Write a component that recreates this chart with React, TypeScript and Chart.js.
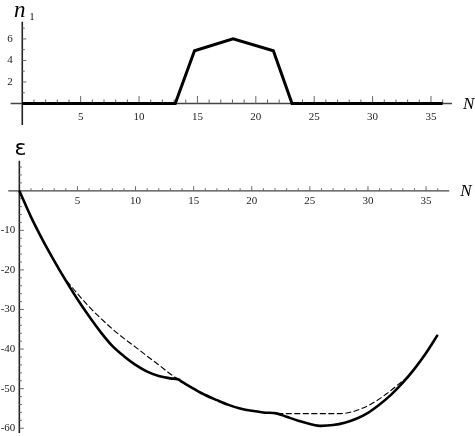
import React, { useEffect, useRef } from "react";
import { Chart, registerables } from "chart.js";
Chart.register(...registerables);

// ---- Top panel: n1 vs N ----
const topN = [0, 13.1, 14.75, 18.05, 21.5, 23.1, 36];
const topN1 = [0, 0, 4.9, 6.0, 4.9, 0, 0];

// ---- Bottom panel: epsilon vs N ----
const solidN = [0, 1, 2, 3, 4, 5, 6, 7, 8, 9, 10, 11, 12, 13, 13.7, 14, 15, 16, 17, 18, 19, 20, 21, 22.2, 23, 24, 25, 26, 27, 28, 29, 30, 31, 32, 33, 34, 35, 36];
const solidE = [0, -6.6, -12.4, -17.7, -22.7, -27.4, -31.7, -35.7, -39.2, -41.8, -44.0, -45.7, -46.8, -47.4, -47.7, -48.3, -50.0, -51.6, -52.9, -54.1, -55.0, -55.6, -56.0, -56.3, -57.1, -58.1, -58.9, -59.4, -59.2, -58.6, -57.6, -56.1, -54.0, -51.5, -48.5, -45.0, -41.0, -36.4];

const dashN1 = [0, 1, 2, 3, 3.5, 4, 5, 6, 7, 8, 9, 10, 11, 12, 13, 13.7];
const dashE1 = [0, -6.6, -12.4, -17.7, -20.2, -22.4, -26.0, -29.3, -32.2, -34.9, -37.3, -39.5, -41.8, -44.0, -46.3, -47.7];
const dashN2 = [22.2, 25, 27.6, 28.7, 30.2, 31.6, 32.5, 33.4, 34, 35, 36];
const dashE2 = [-56.3, -56.3, -56.3, -55.8, -54.0, -51.3, -49.2, -47.0, -45.0, -41.0, -36.4];

// Tick labels
const xTickLabels = [5, 10, 15, 20, 25, 30, 35];
const topYTickLabels = [2, 4, 6];
const bottomYTickLabels = [-10, -20, -30, -40, -50, -60];

const toPts = (xs: number[], ys: number[]) => xs.map((x, i) => ({ x, y: ys[i] }));

type AxisCfg = {
  xLabelOffset: number;
  yLabelGap: number;
  xMajor: number;
  xMinor: number;
  yMajor: number;
  yMinor: number;
  yTickFrom: number;
  yTickTo: number;
  yTickStep: number;
  yMajorEvery: number;
  yLabels: number[];
  drawTitle: (ctx: CanvasRenderingContext2D, x0: number, y0: number) => void;
};

function axesPlugin(cfg: AxisCfg) {
  return {
    id: "mmaAxes",
    beforeDatasetsDraw(chart: any) {
      const ctx: CanvasRenderingContext2D = chart.ctx;
      const xs = chart.scales.x;
      const ys = chart.scales.y;
      const area = chart.chartArea;
      const x0 = xs.getPixelForValue(0);
      const y0 = ys.getPixelForValue(0);
      ctx.save();
      // axis lines
      ctx.strokeStyle = "#444";
      ctx.lineWidth = 1.3;
      ctx.beginPath();
      ctx.moveTo(area.left, y0);
      ctx.lineTo(area.right, y0);
      ctx.stroke();
      ctx.lineWidth = 1.6;
      ctx.strokeStyle = "#222";
      ctx.beginPath();
      ctx.moveTo(x0, area.top);
      ctx.lineTo(x0, area.bottom);
      ctx.stroke();
      // x ticks
      ctx.lineWidth = 1;
      ctx.strokeStyle = "#666";
      for (let i = 1; i <= 36; i++) {
        const px = xs.getPixelForValue(i);
        const len = i % 5 === 0 ? cfg.xMajor : cfg.xMinor;
        ctx.beginPath();
        ctx.moveTo(px, y0);
        ctx.lineTo(px, y0 - len);
        ctx.stroke();
      }
      // y ticks
      for (let v = cfg.yTickFrom; v <= cfg.yTickTo + 1e-9; v += cfg.yTickStep) {
        if (Math.abs(v) < 1e-9) continue;
        const py = ys.getPixelForValue(v);
        const len = Math.abs(v) % cfg.yMajorEvery === 0 ? cfg.yMajor : cfg.yMinor;
        ctx.beginPath();
        ctx.moveTo(x0, py);
        ctx.lineTo(x0 + len, py);
        ctx.stroke();
      }
      // labels
      ctx.fillStyle = "#222";
      ctx.font = "11px 'Liberation Serif', 'DejaVu Serif', serif";
      ctx.textAlign = "center";
      ctx.textBaseline = "middle";
      xTickLabels.forEach((v) => {
        ctx.fillText(String(v), xs.getPixelForValue(v), y0 + cfg.xLabelOffset);
      });
      ctx.textAlign = "right";
      cfg.yLabels.forEach((v) => {
        ctx.fillText(String(v), x0 - cfg.yLabelGap, ys.getPixelForValue(v));
      });
      // N axis label
      ctx.fillStyle = "#000";
      ctx.textAlign = "left";
      ctx.font = "italic 17px 'Liberation Serif', 'DejaVu Serif', serif";
      ctx.fillText("N", area.right + 11, y0 + 1);
      cfg.drawTitle(ctx, x0, area.top);
      ctx.restore();
    },
  };
}

function useChart(ref: React.RefObject<HTMLCanvasElement>, make: (c: HTMLCanvasElement) => Chart) {
  useEffect(() => {
    if (!ref.current) return;
    const ch = make(ref.current);
    return () => ch.destroy();
  }, []);
}

export default function App() {
  const topRef = useRef<HTMLCanvasElement>(null);
  const botRef = useRef<HTMLCanvasElement>(null);

  useEffect(() => {
    document.body.style.margin = "0";
  }, []);

  useChart(topRef as any, (c) =>
    new Chart(c, {
      type: "line",
      data: {
        datasets: [
          {
            data: toPts(topN, topN1),
            borderColor: "#000",
            borderWidth: 3,
            pointRadius: 0,
            tension: 0,
            borderJoinStyle: "miter",
          },
        ],
      },
      options: {
        responsive: false,
        animation: false,
        devicePixelRatio: 1,
        layout: { padding: { left: 10.6, right: 23, top: 21.7, bottom: 15 } },
        plugins: { legend: { display: false }, tooltip: { enabled: false } },
        scales: {
          x: { type: "linear", min: -1, max: 36.8, display: false },
          y: { type: "linear", min: -2, max: 7.6, display: false },
        },
      },
      plugins: [
        axesPlugin({
          xLabelOffset: 13.5,
          yLabelGap: 9.5,
          xMajor: 7.5,
          xMinor: 4,
          yMajor: 4,
          yMinor: 2.5,
          yTickFrom: 1,
          yTickTo: 7,
          yTickStep: 1,
          yMajorEvery: 2,
          yLabels: topYTickLabels,
          drawTitle: (ctx) => {
            ctx.fillStyle = "#000";
            ctx.textAlign = "left";
            ctx.textBaseline = "alphabetic";
            ctx.font = "italic 23px 'Liberation Serif', 'DejaVu Serif', serif";
            ctx.fillText("n", 14, 16.8);
            ctx.font = "10px 'Liberation Serif', 'DejaVu Serif', serif";
            ctx.fillText("1", 29.5, 19.5);
          },
        }) as any,
      ],
    } as any)
  );

  useChart(botRef as any, (c) =>
    new Chart(c, {
      type: "line",
      data: {
        datasets: [
          {
            data: toPts(solidN, solidE),
            borderColor: "#000",
            borderWidth: 2.6,
            pointRadius: 0,
            cubicInterpolationMode: "monotone",
          },
          {
            data: [...toPts(dashN1, dashE1), { x: 18, y: null }, ...toPts(dashN2, dashE2)],
            borderColor: "#000",
            borderWidth: 1.1,
            borderDash: [6, 2.5],
            pointRadius: 0,
            cubicInterpolationMode: "monotone",
            spanGaps: false,
          },
        ],
      },
      options: {
        responsive: false,
        animation: false,
        devicePixelRatio: 1,
        layout: { padding: { left: 8.3, right: 25.7, top: 20.7, bottom: 3 } },
        plugins: { legend: { display: false }, tooltip: { enabled: false } },
        scales: {
          x: { type: "linear", min: -0.95, max: 37, display: false },
          y: { type: "linear", min: -61.2, max: 7.6, display: false },
        },
      },
      plugins: [
        axesPlugin({
          xLabelOffset: 10,
          yLabelGap: 4,
          xMajor: 4.5,
          xMinor: 2.5,
          yMajor: 4.5,
          yMinor: 2.5,
          yTickFrom: -60,
          yTickTo: 6,
          yTickStep: 2,
          yMajorEvery: 10,
          yLabels: bottomYTickLabels,
          drawTitle: (ctx) => {
            ctx.fillStyle = "#000";
            ctx.textAlign = "left";
            ctx.textBaseline = "alphabetic";
            ctx.font = "22px 'DejaVu Sans', sans-serif";
            ctx.fillText("ε", 14.5, 15);
          },
        }) as any,
      ],
    } as any)
  );

  return (
    <div style={{ position: "relative", width: 475, height: 436, background: "#fff" }}>
      <canvas ref={topRef} width={475} height={140} style={{ position: "absolute", left: 0, top: 0 }} />
      <canvas ref={botRef} width={475} height={296} style={{ position: "absolute", left: 0, top: 140 }} />
    </div>
  );
}
